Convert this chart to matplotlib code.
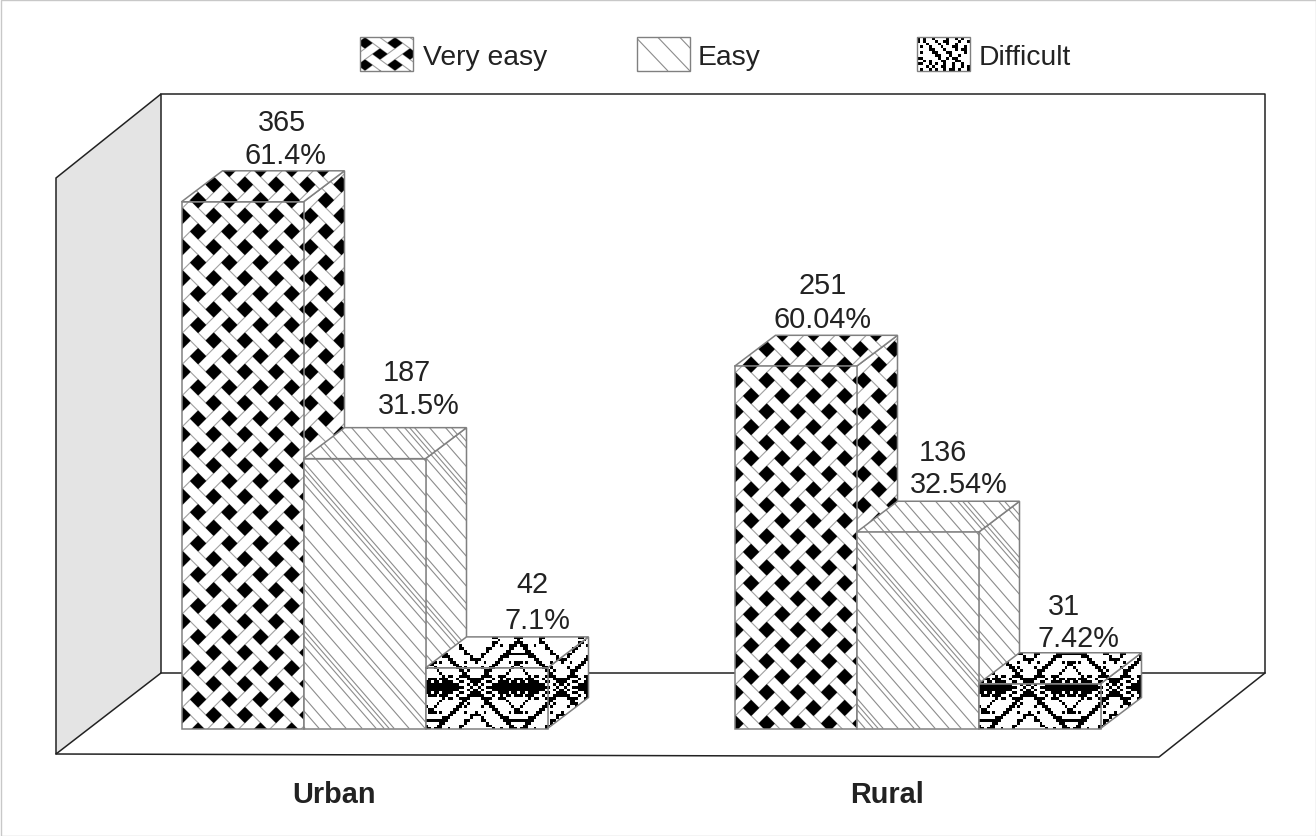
import numpy as np
import matplotlib
matplotlib.use("Agg")
import matplotlib.pyplot as plt
from matplotlib.collections import LineCollection, PolyCollection
from matplotlib.patches import Polygon, Rectangle

plt.rcParams["font.family"] = ["Liberation Sans", "DejaVu Sans"]

groups = ["Urban", "Rural"]
series = ["Very easy", "Easy", "Difficult"]
counts = [[365, 187, 42], [251, 136, 31]]
percents = [["61.4%", "31.5%", "7.1%"], ["60.04%", "32.54%", "7.42%"]]

W, H = 1316, 837
BASE = 729.5
PX_PER_UNIT = 1.443
GROUP_LEFT = [181.5, 734.5]
BAR_W = 122
DX, DY = 41, 31
EDGE = "#808080"
TXT = "#222222"
LACE_Y = 687

# label offsets from the bar's front top-left corner: count then percent
LABEL_OFF = [
    [((100, -80), (104, -47)), ((103, -87), (115, -54)), ((107, -84), (112, -48))],
    [((88, -81), (88, -47)), ((86, -80), (102, -48)), ((85, -78), (100, -46))],
]

LEGEND_TILE = """
#.#..#....#..#.#..
#.#...#..##...#..#
...#...#..#..#....
.#..#...#...##..#.
....##...#...#.##.
.#...##...##....#.
......##...#..#...
##.....#..#.##....
..#.#...##...##...
##..#.#..#..#..#..
...#.#..##..#..#.#
.#..#.#..#.##.#..#
""".split()


def clip_to(artist, patch):
    artist.set_clip_path(patch)


def fill_weave(ax, patch, ox, oy, z, kx=7.8, ky=7.8, hole=1.04):
    x0, y0, x1, y1 = patch.get_path().get_extents().extents
    n = int((x1 - x0) / (2 * kx) + (y1 - y0) / (2 * ky)) + 6
    ca = int((y0 - oy) / (2 * ky) + (x0 - ox) / (2 * kx))
    cb = int((x0 - ox) / (2 * kx) - (y0 - oy) / (2 * ky))
    ca -= ca % 4
    cb -= cb % 4

    def pt(a, b):
        return (ox + (a + b) * kx, oy + (a - b) * ky)

    holes, lines = [], []
    for a in range(ca - 4, ca + n + 4):
        for b in range(cb - n, cb + n + 4):
            if a % 2 == 0 and b % 2 == 0:
                d = (hole - 1) / 2
                holes.append([pt(a - d, b - d), pt(a + 1 + d, b - d),
                              pt(a + 1 + d, b + 1 + d), pt(a - d, b + 1 + d)])
            if a % 2 == 1 and b % 2 == 1:
                if ((a + b) // 2) % 2 == 1:
                    lines.append([pt(a - 1, b), pt(a + 2, b)])
                    lines.append([pt(a - 1, b + 1), pt(a + 2, b + 1)])
                else:
                    lines.append([pt(a, b - 1), pt(a, b + 2)])
                    lines.append([pt(a + 1, b - 1), pt(a + 1, b + 2)])
    pc = PolyCollection(holes, facecolors="black", edgecolors="none", zorder=z)
    lc = LineCollection(lines, colors="#a0a0a0", linewidths=0.8, zorder=z)
    ax.add_collection(lc)
    ax.add_collection(pc)
    clip_to(pc, patch)
    clip_to(lc, patch)


def fill_lines(ax, patch, ox, oy, z, slope=1.15, steps=(15, 16, 14, 8, 5, 5, 15, 16, 6, 15, 14, 12)):
    # uneven slanted lines, same look as the original fill
    x0, y0, x1, y1 = patch.get_path().get_extents().extents
    segs = []
    c = ox - oy / slope - 40 * sum(steps) / len(steps)
    i = 0
    end = x1 - y0 / slope + 50
    while c < end:
        segs.append([(c + y0 / slope, y0), (c + y1 / slope, y1)])
        c += steps[i % len(steps)]
        i += 1
    lc = LineCollection(segs, colors="#8c8c8c", linewidths=0.8, zorder=z)
    ax.add_collection(lc)
    clip_to(lc, patch)


def lace_tile():
    rows, cols = 34, 31
    t = np.ones((rows, cols))
    for r in range(rows):
        for c in range(cols):
            u = min(c, cols - c)
            v = min(r, rows - r)
            d = u + v
            # stepped diagonal bands
            if d in (16, 17):
                t[r, c] = 0
            if d in (8, 9) and (r + c) % 2 == 0 and v > 2:
                t[r, c] = 0
            if d in (24, 25) and (r % 2 == 0 or c % 2 == 0):
                t[r, c] = 0
            if d in (12, 21) and u % 3 == 0 and v % 2 == 1:
                t[r, c] = 0
            # dense band across the middle
            if v <= 3 and u <= 5 and (u + v) % 3 != 2:
                t[r, c] = 0
            if v <= 1 and u <= 9:
                t[r, c] = 0
            if v <= 4 and u in (6, 7, 10, 11) and r % 2 == 0:
                t[r, c] = 0
            if v <= 4 and u >= 13 and (abs(u - 15) + v) in (1, 3):
                t[r, c] = 0
            # small arc motif
            if v == 12 and u <= 3:
                t[r, c] = 0
            if v == 11 and u == 4:
                t[r, c] = 0
            if v == 15 and u in (2, 3):
                t[r, c] = 0
            if v == 9 and u <= 1:
                t[r, c] = 0
            if v in (6, 7) and u in (12, 13) and (r + c) % 2 == 1:
                t[r, c] = 0
    return t


def fill_lace(ax, patch, ox, oy, z):
    t = lace_tile()
    cell = 2.77
    big = np.tile(t, (6, 6))
    left = ox - 3 * t.shape[1] * cell
    top = oy - 3 * t.shape[0] * cell
    im = ax.imshow(big, cmap="gray", vmin=0, vmax=1, interpolation="nearest", zorder=z,
                   extent=(left, left + big.shape[1] * cell, top + big.shape[0] * cell, top),
                   aspect="auto")
    clip_to(im, patch)


FILLS = [fill_weave, fill_lines, fill_lace]


def face(ax, pts, fill, anchor, z):
    base = Polygon(pts, closed=True, facecolor="white", edgecolor="none", zorder=z)
    ax.add_patch(base)
    fill(ax, base, anchor[0], anchor[1], z + 0.1)
    ax.add_patch(Polygon(pts, closed=True, fill=False, edgecolor=EDGE, linewidth=1.1, zorder=z + 0.2))


def draw_bar(ax, x, value, fill, z):
    top = BASE - value * PX_PER_UNIT
    r = x + BAR_W
    anchor = (x + 1 - 7.8, top + 14)
    side = (anchor[0] + 3, anchor[1])
    if fill is fill_lace:
        anchor = (x + 91, LACE_Y)
        side = anchor
    face(ax, [(r, BASE), (r + DX, BASE - DY), (r + DX, top - DY), (r, top)], fill, side, z)
    face(ax, [(x, top), (x + DX, top - DY), (r + DX, top - DY), (r, top)], fill, anchor, z + 1)
    face(ax, [(x, top), (r, top), (r, BASE), (x, BASE)], fill, anchor, z + 2)
    return top


fig = plt.figure(figsize=(W / 100, H / 100), dpi=100)
ax = fig.add_axes([0, 0, 1, 1])
ax.set_xlim(0, W)
ax.set_ylim(H, 0)
ax.axis("off")

ax.add_patch(Rectangle((0.5, 0.5), W - 1, H - 1, fill=False, edgecolor="#c8c8c8", linewidth=1))

# 3d box behind the bars
ax.add_patch(Polygon([(161, 95), (56, 179), (56, 755), (161, 674)], closed=True,
                     facecolor="#e4e4e4", edgecolor="#222222", linewidth=1.1, zorder=1))
ax.plot([161, 1265, 1265, 161], [95, 95, 674, 674], color="#222222", lw=1.1, zorder=1)
ax.plot([56, 1159, 1265], [755, 758, 674], color="#222222", lw=1.1, zorder=1)

for g, name in enumerate(groups):
    for s in range(len(series)):
        x = GROUP_LEFT[g] + s * BAR_W
        top = draw_bar(ax, x, counts[g][s], FILLS[s], 10 + g * 10 + s * 3)
        (cx, cy), (px, py) = LABEL_OFF[g][s]
        ax.text(x + cx, top + cy, str(counts[g][s]), ha="center", va="center",
                fontsize=20.8, color=TXT, zorder=50)
        ax.text(x + px, top + py, percents[g][s], ha="center", va="center",
                fontsize=20.8, color=TXT, zorder=50)
    ax.text(GROUP_LEFT[g] + 152, 795, name, ha="center", va="center",
            fontsize=20.8, fontweight="bold", color=TXT)

# legend
legend_x = [360, 637, 917]
legend_text_x = [423, 698, 979]
for s, label in enumerate(series):
    lx = legend_x[s]
    pts = [(lx, 38), (lx + 53, 38), (lx + 53, 72), (lx, 72)]
    base = Polygon(pts, closed=True, facecolor="white", edgecolor="none", zorder=5)
    ax.add_patch(base)
    if s == 0:
        fill_weave(ax, base, lx + 5 - 7.5, 44, 6, kx=7.5, ky=5.5, hole=1.0)
    elif s == 1:
        fill_lines(ax, base, lx - 34, 38, 6, slope=1.05, steps=(22, 22, 14, 9, 8, 9, 30))
    else:
        tile = np.array([[0 if ch == "#" else 1 for ch in row] for row in LEGEND_TILE])
        im = ax.imshow(tile, cmap="gray", vmin=0, vmax=1, interpolation="nearest", zorder=6,
                       extent=(lx, lx + 53, 72, 38), aspect="auto")
        clip_to(im, base)
    ax.add_patch(Polygon(pts, closed=True, fill=False, edgecolor=EDGE, linewidth=1, zorder=7))
    ax.text(legend_text_x[s], 57.5, label, ha="left", va="center", fontsize=20.3, color=TXT)

ax.set_xlim(0, W)
ax.set_ylim(H, 0)
fig.savefig("out.png", dpi=100, facecolor="white")
